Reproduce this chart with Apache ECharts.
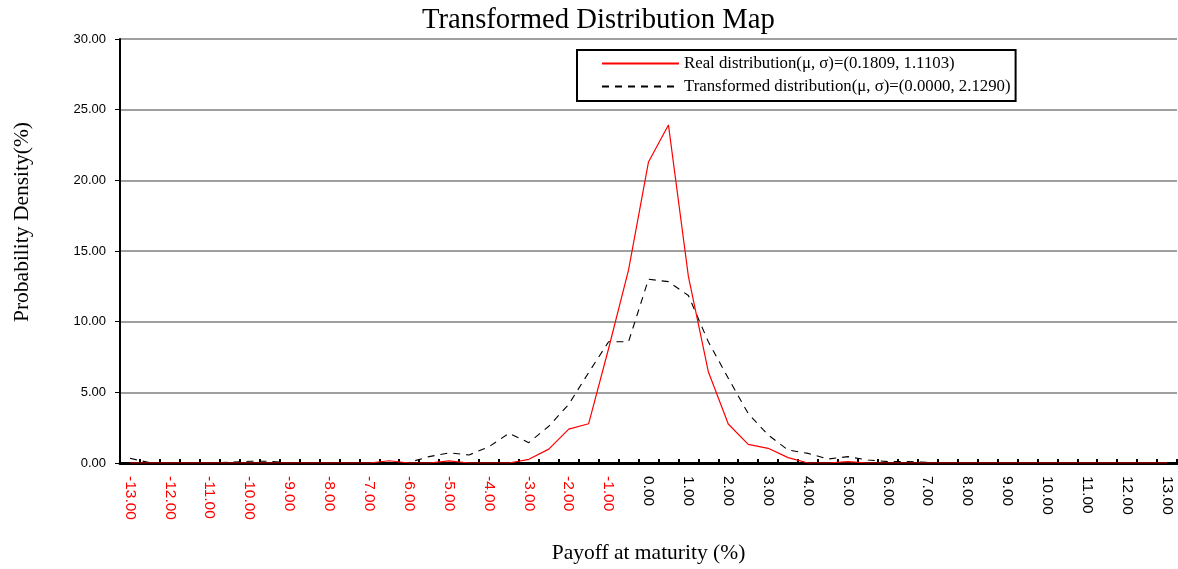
<!DOCTYPE html>
<html>
<head>
<meta charset="utf-8">
<script src="https://cdn.jsdelivr.net/npm/echarts@6/dist/echarts.min.js"></script>
<style>
html,body{margin:0;padding:0;background:#fff;overflow:hidden;}
#chart{position:absolute;left:0;top:0;width:1178px;height:569px;}
</style>
</head>
<body>
<div id="chart"></div>
<script>
const categories = [-13,-12.5,-12,-11.5,-11,-10.5,-10,-9.5,-9,-8.5,-8,-7.5,-7,-6.5,-6,-5.5,-5,-4.5,-4,-3.5,-3,-2.5,-2,-1.5,-1,-0.5,0,0.5,1,1.5,2,2.5,3,3.5,4,4.5,5,5.5,6,6.5,7,7.5,8,8.5,9,9.5,10,10.5,11,11.5,12,12.5,13];
const realDist = [0,0,0,0,0,0,0,0,0,0,0,0,0,0.16,0,0,0.15,0,0,0,0.26,0.98,2.4,2.78,8.1,13.66,21.3,23.92,13.2,6.46,2.76,1.32,1.04,0.38,0,0,0.1,0,0,0,0,0,0,0,0,0,0,0,0,0,0,0,0];
const transDist = [0.33,0.02,0,0,0,0.05,0.12,0.12,0.02,0,0,0,0,0,0.05,0.45,0.72,0.57,1.15,2.1,1.44,2.6,4.15,6.4,8.58,8.58,13.0,12.83,11.85,8.58,6.0,3.5,1.98,0.92,0.68,0.28,0.45,0.21,0.1,0.1,0.05,0,0,0,0,0,0,0,0,0,0,0,0];
const yTicks = [0,5,10,15,20,25,30];
const titleText = 'Transformed Distribution Map';
const yName = 'Probability Density(%)';
const xName = 'Payoff at maturity (%)';
const realName = 'Real distribution(\u03bc, \u03c3)=(0.1809, 1.1103)';
const transName = 'Transformed distribution(\u03bc, \u03c3)=(0.0000, 2.1290)';

const serif = "'Liberation Serif', 'Times New Roman', serif";
const sans = "'Liberation Sans', Arial, sans-serif";

const chart = echarts.init(document.getElementById('chart'));
chart.setOption({
  animation: false,
  backgroundColor: '#ffffff',
  title: {
    text: titleText, left: 417, top: 1,
    textStyle: {fontFamily: serif, fontSize: 28.7, fontWeight: 'normal', color: '#000'}
  },
  legend: {
    orient: 'vertical', left: 577, top: 50,
    padding: [5, 5, 6, 24],
    itemGap: 6, itemWidth: 77, itemHeight: 14,
    borderColor: '#000', borderWidth: 2,
    backgroundColor: '#fff',
    itemStyle: {opacity: 0},
    textStyle: {fontFamily: serif, fontSize: 16.8, color: '#000'},
    data: [realName, transName]
  },
  graphic: [{
    type: 'text', x: 22, y: 222, rotation: Math.PI / 2, z: 100,
    style: {
      text: yName, fontFamily: serif, fontSize: 21.5, fill: '#000',
      align: 'center', verticalAlign: 'middle'
    }
  }],
  grid: {left: 120, right: 1, top: 39, bottom: 106, containLabel: false, outerBoundsMode: 'none'},
  xAxis: {
    type: 'category',
    data: categories,
    boundaryGap: true,
    name: xName,
    nameLocation: 'middle',
    nameGap: 79,
    nameTextStyle: {fontFamily: serif, fontSize: 21.5, color: '#000'},
    axisLine: {lineStyle: {color: '#000', width: 3}},
    axisTick: {show: true, inside: true, length: 4, interval: 0, lineStyle: {color: '#000', width: 2}},
    axisLabel: {
      interval: 1, rotate: -90, margin: 13,
      fontFamily: sans, fontSize: 15.5,
      formatter: function (v) { return Number(v).toFixed(2); },
      color: function (v) { return Number(v) < 0 ? '#ff0000' : '#000000'; }
    },
    splitLine: {show: false}
  },
  yAxis: {
    type: 'value', min: yTicks[0], max: yTicks[yTicks.length - 1], interval: 5,
    axisLine: {show: true, lineStyle: {color: '#000', width: 2}},
    axisTick: {show: true, length: 5, lineStyle: {color: '#000', width: 1}},
    axisLabel: {
      fontFamily: sans, fontSize: 13, color: '#000', margin: 14,
      formatter: function (v) { return v.toFixed(2); }
    },
    splitLine: {show: true, lineStyle: {color: '#7f7f7f', width: 1.5}}
  },
  series: [
    {
      name: realName, type: 'line', data: realDist,
      symbol: 'none', smooth: false, z: 3,
      lineStyle: {color: '#ff0000', width: 1.2},
      itemStyle: {color: '#ff0000'}
    },
    {
      name: transName, type: 'line', data: transDist,
      symbol: 'none', smooth: false, z: 2,
      lineStyle: {color: '#000000', width: 1.1, type: [7, 6]},
      itemStyle: {color: '#000000'}
    }
  ]
});
</script>
</body>
</html>
